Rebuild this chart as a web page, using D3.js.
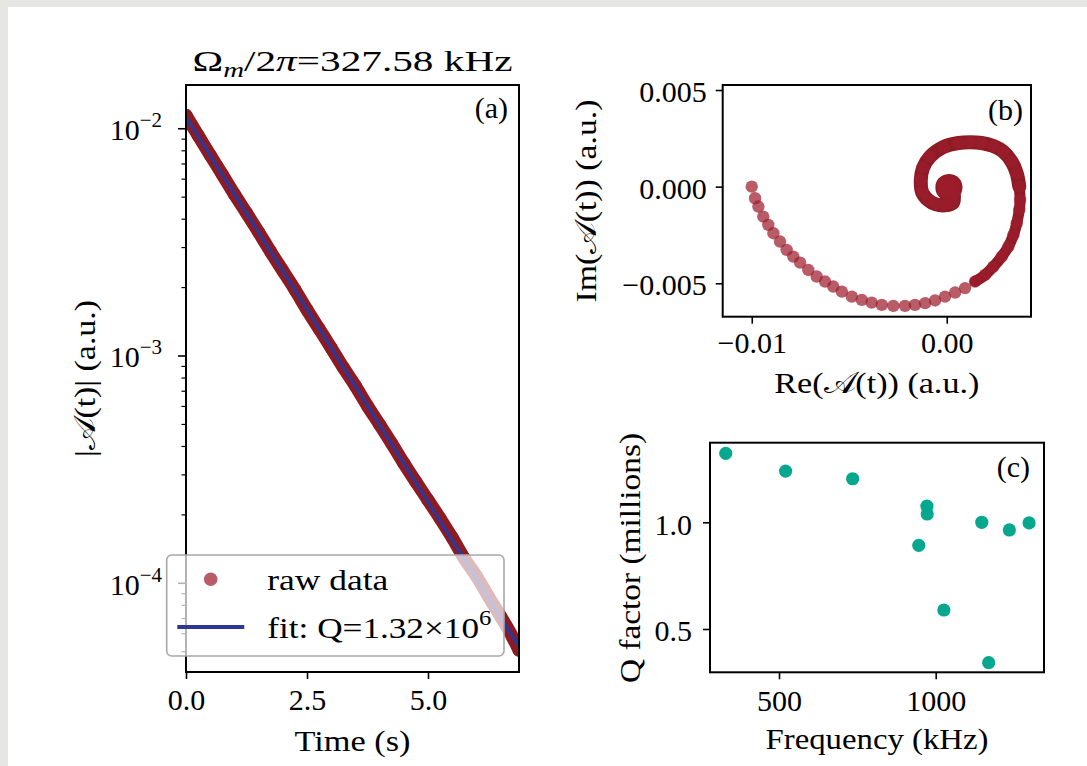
<!DOCTYPE html>
<html>
<head>
<meta charset="utf-8">
<script src="https://cdn.jsdelivr.net/npm/d3@7/dist/d3.min.js"></script>
<style>
	body { margin: 0; background: #fff; }
	svg { display: block; font-family: 'Liberation Serif', 'DejaVu Serif', serif; }
	.vis__axis text { font-size: 30px; fill: #000; font-family: 'Liberation Serif', 'DejaVu Serif', serif; }
	.vis__axis line { stroke: #000; stroke-width: 1.6px; }
</style>
</head>
<body>
<svg id="chart" width="1087" height="766"></svg>
<script>
// panel (a): ring-down of the 327.58 kHz mode
var timeS = [0, 0.25, 0.5, 0.75, 1.0, 1.25, 1.5, 1.75, 2.0, 2.25, 2.5, 2.75, 3.0, 3.25, 3.5,
	3.75, 4.0, 4.25, 4.5, 4.75, 5.0, 5.25, 5.5, 5.75, 6.0, 6.25, 6.5, 6.75, 6.88];
var rawAmp = [0.01140, 0.00930, 0.00762, 0.00626, 0.00512, 0.00424, 0.00349, 0.00286, 0.00236,
	0.00195, 0.00159, 0.00131, 0.00108, 0.000885, 0.000735, 0.000600, 0.000497, 0.000410,
	0.000336, 0.000278, 0.000231, 0.000192, 0.000158, 0.000128, 0.000107, 0.0000870,
	0.0000712, 0.0000575, 0.0000505];
var fitTime = [0, 6.88];
var fitAmp = [0.0112, 0.0000524];

// panel (b): demodulated trajectory in the complex plane
var spiralRe = [-0.01000, -0.00983, -0.00966, -0.00941, -0.00915, -0.00889, -0.00855, -0.00821,
	-0.00787, -0.00752, -0.00710, -0.00667, -0.00624, -0.00582, -0.00538, -0.00487, -0.00436,
	-0.00385, -0.00333, -0.00274, -0.00214, -0.00163, -0.00111, -0.00060, -0.00009, 0.00043,
	0.00094, 0.00145, 0.00196, 0.00239, 0.00282, 0.00316, 0.00342, 0.00359, 0.00372, 0.00376,
	0.00372, 0.00359, 0.00333, 0.00290, 0.00239, 0.00179, 0.00119, 0.00060, -0.00017, -0.00086,
	-0.00122, -0.00133, -0.00127, -0.00096, -0.00055, -0.00009, 0.00032, 0.00037, 0.00045,
	0.00032, 0.00007, -0.00019, -0.00019, 0.00007, 0.00027, 0.00012];
var spiralIm = [0.00000, -0.00060, -0.00103, -0.00155, -0.00198, -0.00241, -0.00284, -0.00327,
	-0.00362, -0.00393, -0.00431, -0.00465, -0.00491, -0.00517, -0.00543, -0.00569, -0.00586,
	-0.00600, -0.00612, -0.00617, -0.00617, -0.00612, -0.00603, -0.00589, -0.00569, -0.00548,
	-0.00525, -0.00491, -0.00457, -0.00414, -0.00362, -0.00310, -0.00250, -0.00189, -0.00120,
	-0.00069, 0.00000, 0.00069, 0.00129, 0.00181, 0.00210, 0.00226, 0.00230, 0.00226, 0.00205,
	0.00155, 0.00097, 0.00035, -0.00027, -0.00069, -0.00092, -0.00097, -0.00084, -0.00033,
	-0.00002, 0.00024, 0.00029, 0.00014, -0.00022, -0.00038, -0.00017, -0.00002];

// panel (c): Q factor for each measured mode
var modeFreq = [330, 521, 735, 972, 973, 946, 1026, 1147, 1169, 1235, 1298];
var modeQ = [1.323, 1.240, 1.204, 1.076, 1.039, 0.892, 0.589, 1.000, 0.342, 0.964, 0.997];

// tick labels
var timeTicks = [0, 2.5, 5.0];
var ampTicks = [1e-2, 1e-3, 1e-4];
var reTicks = [-0.01, 0.0];
var imTicks = [0.005, 0.0, -0.005];
var freqTicks = [500, 1000];
var qTicks = [0.5, 1.0];

var red = '#8d1b24', redDot = '#9c1d2c', blue = '#2d3896', teal = '#05a88f';

var svg = d3.select('#chart');
svg.append('rect').attr('width', 1087).attr('height', 766).attr('fill', '#e6e6e2');
svg.append('rect').attr('x', 8).attr('y', 7).attr('width', 1079).attr('height', 759).attr('fill', '#fff');

function rich(text, parts) {
	parts.forEach(function(p) {
		var t = text.append('tspan').text(p.t);
		if (p.dy) t.attr('dy', p.dy);
		if (p.size) t.attr('font-size', p.size);
		if (p.italic) t.attr('font-style', 'italic');
	});
	return text;
}

function label(x, y, anchor, parts, len, rot) {
	var t = svg.append('text')
		.attr('transform', 'translate(' + x + ',' + y + ')' + (rot ? ' rotate(-90)' : ''))
		.attr('text-anchor', anchor)
		.attr('font-size', 30);
	rich(t, parts);
	if (len) t.attr('textLength', len).attr('lengthAdjust', 'spacingAndGlyphs');
	return t;
}

function styleAxis(g) {
	g.select('.domain').remove();
	g.classed('vis__axis', true);
}

function frame(box) {
	svg.append('rect')
		.attr('x', box.x0).attr('y', box.y0)
		.attr('width', box.x1 - box.x0).attr('height', box.y1 - box.y0)
		.attr('fill', 'none').attr('stroke', '#000').attr('stroke-width', 2);
}

var A = [{t: '|'}, {t: '𝒜'}, {t: '(t)|'}];

function drawPanelA() {
	var box = {x0: 186, x1: 519, y0: 85, y1: 672};
	var x = d3.scaleLinear().domain([0, 6.88]).range([box.x0, box.x1]);
	var y = d3.scaleLog().domain([4.05e-5, 0.0155]).range([box.y1, box.y0]);

	svg.append('defs').append('clipPath').attr('id', 'clip-a')
		.append('rect').attr('x', box.x0).attr('y', box.y0)
		.attr('width', box.x1 - box.x0).attr('height', box.y1 - box.y0);

	var graph = svg.append('g').attr('clip-path', 'url(#clip-a)');
	var pts = timeS.map(function(t, i) { return [x(t), y(rawAmp[i])]; });
	graph.append('path')
		.attr('d', d3.line().curve(d3.curveMonotoneX)(pts))
		.attr('fill', 'none').attr('stroke', red).attr('stroke-width', 13)
		.attr('stroke-linecap', 'round').attr('stroke-linejoin', 'round');
	graph.selectAll('circle').data(pts).enter().append('circle')
		.attr('cx', function(d) { return d[0]; }).attr('cy', function(d) { return d[1]; })
		.attr('r', 6.5).attr('fill', red);
	graph.append('path')
		.attr('d', d3.line()(fitTime.map(function(t, i) { return [x(t), y(fitAmp[i])]; })))
		.attr('stroke', blue).attr('stroke-width', 3.5).attr('fill', 'none');

	var bottom = svg.append('g').attr('transform', 'translate(0,' + box.y1 + ')')
		.call(d3.axisBottom(x).tickValues(timeTicks).tickFormat(d3.format('.1f'))
			.tickSize(7).tickPadding(10).tickSizeOuter(0));
	styleAxis(bottom);

	var minor = [];
	[-5, -4, -3, -2].forEach(function(k) {
		for (var m = 2; m < 10; m++) {
			var v = m * Math.pow(10, k);
			if (v >= y.domain()[0] && v <= y.domain()[1]) minor.push(v);
		}
	});
	var leftMinor = svg.append('g').attr('transform', 'translate(' + box.x0 + ',0)')
		.call(d3.axisLeft(y).tickValues(minor).tickFormat('').tickSize(4.5).tickSizeOuter(0));
	styleAxis(leftMinor);
	leftMinor.selectAll('line').style('stroke-width', '1.2px');

	var left = svg.append('g').attr('transform', 'translate(' + box.x0 + ',0)')
		.call(d3.axisLeft(y).tickValues(ampTicks).tickFormat('').tickSize(8).tickPadding(16).tickSizeOuter(0));
	styleAxis(left);
	left.selectAll('.tick text').attr('dy', '0.38em').each(function(d) {
		var exp = Math.round(Math.log10(d));
		rich(d3.select(this), [{t: '10'}, {t: '−' + (-exp), size: 21, dy: -13}]);
	});

	frame(box);

	svg.append('text').attr('x', box.x1 - 11).attr('y', 118).attr('text-anchor', 'end')
		.attr('font-size', 30).text('(a)');

	// legend drawn above the data and the spine
	var legend = svg.append('g');
	legend.append('rect').attr('x', 166.7).attr('y', 555).attr('width', 337.3).attr('height', 101)
		.attr('rx', 5).attr('fill', '#fff').attr('fill-opacity', 0.7)
		.attr('stroke', '#a8a8a8').attr('stroke-width', 1.6);
	legend.append('circle').attr('cx', 210.7).attr('cy', 579.3).attr('r', 6.8)
		.attr('fill', redDot).attr('fill-opacity', 0.72);
	legend.append('line').attr('x1', 177.3).attr('x2', 244.3).attr('y1', 627).attr('y2', 627)
		.attr('stroke', blue).attr('stroke-width', 4);
	label(267.3, 590, 'start', [{t: 'raw data'}], 121);
	label(267.3, 638, 'start', [{t: 'fit: Q=1.32×10'}, {t: '6', size: 21, dy: -13}], 224);

	label(352.5, 71, 'middle', [{t: 'Ω'}, {t: 'm', italic: true, size: 21, dy: 6},
		{t: '/2', dy: -6}, {t: 'π', italic: true}, {t: '=327.58 kHz'}], 320);
	label(352.5, 750.7, 'middle', [{t: 'Time (s)'}], 116);
	label(95, 378.5, 'middle', A.concat([{t: ' (a.u.)'}]), 157, true);
}
drawPanelA();

function drawPanelB() {
	var box = {x0: 722.7, x1: 1031, y0: 85, y1: 316.7};
	var x = d3.scaleLinear().domain([-0.01149, 0.00432]).range([box.x0, box.x1]);
	var y = d3.scaleLinear().domain([-0.00673, 0.00526]).range([box.y1, box.y0]);

	var pts = spiralRe.map(function(r, i) { return [x(r), y(spiralIm[i])]; });
	var line = d3.line().curve(d3.curveCatmullRom);
	svg.append('path').attr('d', line(pts.slice(27, 37)))
		.attr('fill', 'none').attr('stroke', red).attr('stroke-width', 11).attr('stroke-linecap', 'round');
	svg.append('path').attr('d', line(pts.slice(36)))
		.attr('fill', 'none').attr('stroke', red).attr('stroke-width', 14)
		.attr('stroke-linecap', 'round').attr('stroke-linejoin', 'round');
	svg.append('g').selectAll('circle').data(pts).enter().append('circle')
		.attr('cx', function(d) { return d[0]; }).attr('cy', function(d) { return d[1]; })
		.attr('r', 6.2).attr('fill', redDot).attr('fill-opacity', 0.72);

	var bottom = svg.append('g').attr('transform', 'translate(0,' + box.y1 + ')')
		.call(d3.axisBottom(x).tickValues(reTicks).tickFormat(d3.format('.2f'))
			.tickSize(7).tickPadding(8).tickSizeOuter(0));
	styleAxis(bottom);
	var left = svg.append('g').attr('transform', 'translate(' + box.x0 + ',0)')
		.call(d3.axisLeft(y).tickValues(imTicks).tickFormat(d3.format('.3f'))
			.tickSize(7).tickPadding(9).tickSizeOuter(0));
	styleAxis(left);
	left.selectAll('.tick text').attr('dy', '0.38em');

	frame(box);
	svg.append('text').attr('x', box.x1 - 8).attr('y', 120).attr('text-anchor', 'end')
		.attr('font-size', 30).text('(b)');

	label(876.8, 393.3, 'middle', [{t: 'Re('}].concat([{t: '𝒜'}, {t: '(t)) (a.u.)'}]), 205);
	label(596, 201, 'middle', [{t: 'Im('}].concat([{t: '𝒜'}, {t: '(t)) (a.u.)'}]), 203, true);
}
drawPanelB();

function drawPanelC() {
	var box = {x0: 710, x1: 1044, y0: 442.7, y1: 672.3};
	var x = d3.scaleLinear().domain([279.8, 1345.6]).range([box.x0, box.x1]);
	var y = d3.scaleLinear().domain([0.297, 1.373]).range([box.y1, box.y0]);

	svg.append('g').selectAll('circle').data(modeFreq).enter().append('circle')
		.attr('cx', function(d) { return x(d); })
		.attr('cy', function(d, i) { return y(modeQ[i]); })
		.attr('r', 6.6).attr('fill', teal);

	var bottom = svg.append('g').attr('transform', 'translate(0,' + box.y1 + ')')
		.call(d3.axisBottom(x).tickValues(freqTicks).tickFormat(d3.format('d'))
			.tickSize(7).tickPadding(10).tickSizeOuter(0));
	styleAxis(bottom);
	var left = svg.append('g').attr('transform', 'translate(' + box.x0 + ',0)')
		.call(d3.axisLeft(y).tickValues(qTicks).tickFormat(d3.format('.1f'))
			.tickSize(7).tickPadding(11).tickSizeOuter(0));
	styleAxis(left);
	left.selectAll('.tick text').attr('dy', '0.4em');

	frame(box);
	svg.append('text').attr('x', box.x1 - 14).attr('y', 477).attr('text-anchor', 'end')
		.attr('font-size', 30).text('(c)');

	label(877, 749, 'middle', [{t: 'Frequency (kHz)'}], 223);
	label(640, 558, 'middle', [{t: 'Q factor (millions)'}], 250, true);
}
drawPanelC();
</script>
</body>
</html>
